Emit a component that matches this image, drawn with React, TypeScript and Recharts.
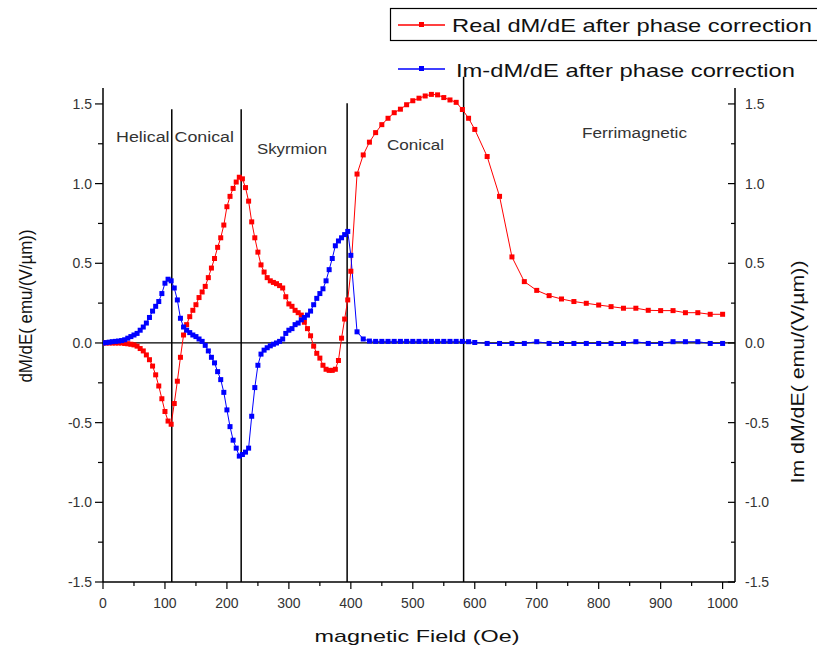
import React from 'react';
import { LineChart, Line, XAxis, YAxis, ReferenceLine } from 'recharts';

// magnetic field (Oe)
const fieldOe = [
  0, 5, 10, 15, 20, 25, 30, 35, 40, 45,
  50, 55, 60, 65, 70, 75, 80, 85, 90, 95,
  100, 105, 110, 115, 120, 125, 130, 135, 140, 145,
  150, 155, 160, 165, 170, 175, 180, 185, 190, 195,
  200, 205, 210, 215, 220, 225, 230, 235, 240, 245,
  250, 255, 260, 265, 270, 275, 280, 285, 290, 295,
  300, 305, 310, 315, 320, 325, 330, 335, 340, 345,
  350, 355, 360, 365, 370, 375, 380, 385, 390, 395,
  400,
  410, 420, 430, 440, 450, 460, 470, 480, 490, 500,
  510, 520, 530, 540, 550, 560, 570, 580, 590, 600,
  620, 640, 660, 680, 700, 720, 740, 760, 780, 800,
  820, 840, 860, 880, 900, 920, 940, 960, 980, 1000,
];

// Real dM/dE after phase correction
const realDMdE = [
  0, 0, 0, 0, 0, 0, 0, -0.003, -0.005, -0.008,
  -0.012, -0.02, -0.035, -0.05, -0.075, -0.105, -0.145, -0.2, -0.27, -0.35,
  -0.43, -0.49, -0.51, -0.38, -0.24, -0.09, 0.05, 0.115, 0.165, 0.205,
  0.24, 0.285, 0.32, 0.355, 0.41, 0.47, 0.53, 0.6, 0.66, 0.74,
  0.855, 0.92, 0.97, 1.01, 1.04, 1.03, 0.975, 0.89, 0.76, 0.66,
  0.57, 0.49, 0.445, 0.41, 0.39, 0.38, 0.372, 0.36, 0.345, 0.29,
  0.245, 0.23, 0.205, 0.19, 0.175, 0.13, 0.09, 0.045, -0.02, -0.065,
  -0.095, -0.14, -0.165, -0.172, -0.172, -0.165, -0.11, 0.03, 0.15, 0.27,
  0.45,
  1.06, 1.18, 1.26, 1.32, 1.37, 1.41, 1.445, 1.467, 1.495, 1.52,
  1.536, 1.55, 1.56, 1.557, 1.54, 1.525, 1.51, 1.465, 1.41, 1.34,
  1.17, 0.92, 0.54, 0.385, 0.33, 0.297, 0.276, 0.26, 0.249, 0.238,
  0.228, 0.218, 0.218, 0.205, 0.203, 0.203, 0.19, 0.19, 0.18, 0.18,
];

// Im-dM/dE after phase correction
const imDMdE = [
  0, 0.002, 0.005, 0.008, 0.01, 0.012, 0.015, 0.02, 0.03, 0.04,
  0.05, 0.06, 0.08, 0.1, 0.125, 0.16, 0.2, 0.23, 0.26, 0.31,
  0.375, 0.4, 0.39, 0.345, 0.27, 0.155, 0.1, 0.08, 0.065, 0.05,
  0.04, 0.025, 0.01, -0.015, -0.05, -0.09, -0.125, -0.18, -0.23, -0.31,
  -0.42, -0.525, -0.61, -0.66, -0.71, -0.7, -0.685, -0.66, -0.46, -0.28,
  -0.14, -0.07, -0.045, -0.03, -0.018, -0.008, 0, 0.01, 0.025, 0.06,
  0.08, 0.09, 0.115, 0.125, 0.145, 0.16, 0.175, 0.2, 0.24, 0.28,
  0.31, 0.34, 0.39, 0.46, 0.53, 0.61, 0.64, 0.66, 0.68, 0.7,
  0.55,
  0.07, 0.025, 0.012, 0.01, 0.01, 0.01, 0.01, 0.01, 0.01, 0.01,
  0.01, 0.01, 0.01, 0.01, 0.01, 0.01, 0.01, 0.01, 0.008, 0.003,
  -0.003, -0.003, -0.003, -0.003, 0.008, -0.003, -0.003, -0.003, -0.003, -0.003,
  -0.003, -0.003, 0.008, -0.003, -0.003, 0.008, 0.008, 0.008, -0.003, -0.003,
];

const xTicks = [0, 50, 100, 150, 200, 250, 300, 350, 400, 450, 500, 550, 600, 650, 700, 750, 800, 850, 900, 950, 1000];
const yTicks = [-1.5, -1.25, -1, -0.75, -0.5, -0.25, 0, 0.25, 0.5, 0.75, 1, 1.25, 1.5];

// phase boundaries (Oe) and how high each boundary line is drawn
const boundaryFields = [111, 223, 394, 582];
const boundaryTops = [1.467, 1.467, 1.505, 1.67];

const regionLabels = ['Helical Conical', 'Skyrmion', 'Conical', 'Ferrimagnetic'];

const seriesNames = ['Real dM/dE after phase correction', 'Im-dM/dE after phase correction'];

const data = fieldOe.map((f, i) => ({ field: f, real: realDMdE[i], im: imDMdE[i] }));

const FONT = '"Liberation Sans", Arial, sans-serif';
const TICK_COLOR = '#333';

const squareDot = (color: string) => (props: any) => {
  const { cx, cy, index } = props;
  if (cx == null || cy == null) return <g key={`d-${index}`} />;
  return <rect key={`d-${index}`} x={cx - 2.5} y={cy - 2.5} width={5} height={5} fill={color} />;
};

const isMajorX = (v: number) => v % 100 === 0;
const isMajorY = (v: number) => Math.abs(v * 2 - Math.round(v * 2)) < 1e-9;

const XTick = (props: any) => {
  const { x, y, payload } = props;
  const v = payload.value;
  const major = isMajorX(v);
  return (
    <g>
      <line x1={x} x2={x} y1={y} y2={y + (major ? 7 : 4)} stroke="#000" strokeWidth={1.2} />
      {major && (
        <text x={x} y={y + 26} textAnchor="middle" fontSize={14} fontFamily={FONT} fill={TICK_COLOR}>
          {v}
        </text>
      )}
    </g>
  );
};

const LeftTick = (props: any) => {
  const { x, y, payload } = props;
  const v = payload.value;
  const major = isMajorY(v);
  return (
    <g>
      <line x1={x} x2={x - (major ? 8 : 5)} y1={y} y2={y} stroke="#000" strokeWidth={1.2} />
      {major && (
        <text x={x - 11} y={y + 5} textAnchor="end" fontSize={14} fontFamily={FONT} fill={TICK_COLOR}>
          {v.toFixed(1)}
        </text>
      )}
    </g>
  );
};

const RightTick = (props: any) => {
  const { x, y, payload } = props;
  const v = payload.value;
  const major = isMajorY(v);
  return (
    <g>
      <line x1={x} x2={x - (major ? 7 : 4)} y1={y} y2={y} stroke="#000" strokeWidth={1.2} />
      {major && (
        <text x={x + 10} y={y + 5} textAnchor="start" fontSize={14} fontFamily={FONT} fill={TICK_COLOR}>
          {v.toFixed(1)}
        </text>
      )}
    </g>
  );
};

export default function App() {
  return (
    <div style={{ position: 'relative', width: 817, height: 654, overflow: 'hidden', background: '#fff' }}>
      <style>{'body{margin:0;background:#fff}'}</style>
      <LineChart
        width={817}
        height={654}
        data={data}
        margin={{ top: 88, right: 0, bottom: 0, left: 0 }}
      >
        <XAxis
          dataKey="field"
          type="number"
          domain={[0, 1020]}
          ticks={xTicks}
          interval={0}
          tickSize={0}
          tickMargin={0}
          tickLine={false}
          tick={<XTick />}
          height={72}
          axisLine={{ stroke: '#000', strokeWidth: 1.5 }}
          allowDataOverflow
        />
        <YAxis
          yAxisId="left"
          orientation="left"
          type="number"
          domain={[-1.5, 1.6]}
          ticks={yTicks}
          interval={0}
          tickSize={0}
          tickMargin={0}
          tickLine={false}
          tick={<LeftTick />}
          width={103}
          axisLine={{ stroke: '#000', strokeWidth: 1.5 }}
          allowDataOverflow
        />
        <YAxis
          yAxisId="right"
          orientation="right"
          type="number"
          domain={[-1.5, 1.6]}
          ticks={yTicks}
          interval={0}
          tickSize={0}
          tickMargin={0}
          tickLine={false}
          tick={<RightTick />}
          width={82}
          axisLine={{ stroke: '#000', strokeWidth: 1.5 }}
          allowDataOverflow
        />
        <ReferenceLine yAxisId="left" y={0} stroke="#000" strokeWidth={1.3} />
        {boundaryFields.map((f, i) => (
          <ReferenceLine
            key={`b-${i}`}
            yAxisId="left"
            segment={[{ x: f, y: -1.5 }, { x: f, y: boundaryTops[i] }]}
            stroke="#000"
            strokeWidth={1.5}
            ifOverflow="visible"
          />
        ))}
        <Line
          yAxisId="left"
          dataKey="real"
          stroke="#ff0000"
          strokeWidth={1}
          dot={squareDot('#ff0000')}
          isAnimationActive={false}
        />
        <Line
          yAxisId="right"
          dataKey="im"
          stroke="#0000ff"
          strokeWidth={1}
          dot={squareDot('#0000ff')}
          isAnimationActive={false}
        />
      </LineChart>
      <svg
        width={817}
        height={654}
        style={{ position: 'absolute', left: 0, top: 0, pointerEvents: 'none' }}
        fontFamily={FONT}
      >
        {/* legend */}
        <rect x={390.5} y={8.5} width={440} height={32} fill="none" stroke="#000" strokeWidth={1.2} />
        <line x1={398} x2={445} y1={25} y2={25} stroke="#ff0000" strokeWidth={1.5} />
        <rect x={419} y={22} width={5} height={5} fill="#ff0000" />
        <text x={452} y={32} fontSize={19} textLength={360} lengthAdjust="spacingAndGlyphs" fill="#111">
          {seriesNames[0]}
        </text>
        <line x1={398} x2={445} y1={69} y2={69} stroke="#0000ff" strokeWidth={1.5} />
        <rect x={419} y={66} width={5} height={5} fill="#0000ff" />
        <text x={456} y={77} fontSize={19} textLength={339} lengthAdjust="spacingAndGlyphs" fill="#111">
          {seriesNames[1]}
        </text>

        {/* region labels */}
        <text x={116} y={142} fontSize={14} textLength={118} lengthAdjust="spacingAndGlyphs" fill="#333">
          {regionLabels[0]}
        </text>
        <text x={257} y={154} fontSize={14} textLength={70} lengthAdjust="spacingAndGlyphs" fill="#333">
          {regionLabels[1]}
        </text>
        <text x={387} y={150} fontSize={14} textLength={57} lengthAdjust="spacingAndGlyphs" fill="#333">
          {regionLabels[2]}
        </text>
        <text x={582} y={138} fontSize={14} textLength={105} lengthAdjust="spacingAndGlyphs" fill="#333">
          {regionLabels[3]}
        </text>

        {/* axis titles */}
        <text x={417} y={642} textAnchor="middle" fontSize={17} textLength={205} lengthAdjust="spacingAndGlyphs" fill="#111">
          magnetic Field (Oe)
        </text>
        <text
          transform="translate(32,306) rotate(-90)"
          textAnchor="middle"
          fontSize={19}
          textLength={153}
          lengthAdjust="spacingAndGlyphs"
          fill="#111"
        >
          dM/dE( emu/(V/µm))
        </text>
        <text
          transform="translate(804,372) rotate(-90)"
          textAnchor="middle"
          fontSize={19}
          textLength={223}
          lengthAdjust="spacingAndGlyphs"
          fill="#111"
        >
          Im dM/dE( emu/(V/µm))
        </text>
      </svg>
    </div>
  );
}
